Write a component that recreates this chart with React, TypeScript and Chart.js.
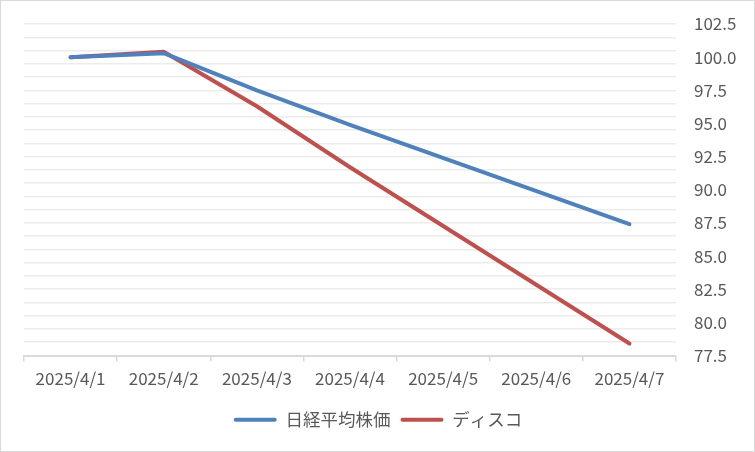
import React, { useEffect, useRef } from "react";
import { Chart, registerables } from "chart.js";

Chart.register(...registerables);

const categories = ["2025/4/1", "2025/4/2", "2025/4/3", "2025/4/4", "2025/4/5", "2025/4/6", "2025/4/7"];
const nikkei = [100.0, 100.3, 97.5, 94.9, null, null, 87.4];
const disco = [100.0, 100.4, 96.3, 91.7, null, null, 78.4];
const seriesNames = ["日経平均株価", "ディスコ"];
const seriesColors = ["#4F81BD", "#C0504D"];
const yMin = 77.5;
const yMax = 102.5;
const yLabelStep = 2.5;
const yGridStep = 1;

const FONT = "'Noto Sans CJK JP', 'Noto Sans', sans-serif";
const TEXT = "#595959";

function isMultiple(v: number, base: number, step: number) {
  const k = (v - base) / step;
  return Math.abs(k - Math.round(k)) < 1e-6;
}

const legendShift = {
  id: "legendShift",
  afterLayout(chart: any) {
    const l = chart.legend;
    if (l) {
      l.left -= 11;
      l.right -= 11;
    }
  },
};

export default function App() {
  const ref = useRef<HTMLCanvasElement | null>(null);

  useEffect(() => {
    if (!ref.current) return;
    const chart = new Chart(ref.current, {
      type: "line",
      plugins: [legendShift],
      data: {
        labels: categories,
        datasets: [
          {
            label: seriesNames[0],
            data: nikkei,
            borderColor: seriesColors[0],
            backgroundColor: seriesColors[0],
            borderWidth: 4,
            pointRadius: 0,
            tension: 0,
            spanGaps: true,
            borderCapStyle: "round",
            borderJoinStyle: "round",
          },
          {
            label: seriesNames[1],
            data: disco,
            borderColor: seriesColors[1],
            backgroundColor: seriesColors[1],
            borderWidth: 4,
            pointRadius: 0,
            tension: 0,
            spanGaps: true,
            borderCapStyle: "round",
            borderJoinStyle: "round",
          },
        ],
      },
      options: {
        animation: false,
        responsive: true,
        maintainAspectRatio: false,
        layout: { padding: { left: 23, top: 23, right: 0, bottom: 12.5 } },
        plugins: {
          tooltip: { enabled: false },
          legend: {
            position: "bottom",
            labels: {
              boxWidth: 43,
              boxHeight: 4,
              padding: 10,
              color: TEXT,
              font: { family: FONT, size: 17.5 },
              generateLabels: (c: any) =>
                c.data.datasets.map((ds: any, i: number) => ({
                  text: ds.label,
                  fillStyle: seriesColors[i],
                  strokeStyle: seriesColors[i],
                  lineWidth: 0,
                  borderRadius: 2,
                  hidden: false,
                  datasetIndex: i,
                  fontColor: TEXT,
                })),
            },
          },
        },
        scales: {
          x: {
            type: "category",
            offset: true,
            afterFit: (s: any) => {
              s.height = 45.5;
            },
            grid: {
              offset: true,
              drawOnChartArea: false,
              drawTicks: true,
              tickLength: 6,
              color: "#d9d9d9",
              lineWidth: 1.5,
            },
            border: { display: true, color: "#d9d9d9", width: 2 },
            ticks: {
              padding: 7,
              color: TEXT,
              font: { family: FONT, size: 17 },
              maxRotation: 0,
              autoSkip: false,
            },
          },
          y: {
            type: "linear",
            position: "right",
            min: yMin,
            max: yMax,
            afterFit: (s: any) => {
              s.width = 78;
              s.paddingTop = 0;
              s.paddingBottom = 0;
            },
            afterBuildTicks: (s: any) => {
              const vals: number[] = [];
              for (let v = yMin; v <= yMax + 1e-9; v += yGridStep) vals.push(Math.round(v * 10) / 10);
              for (let v = yMin; v <= yMax + 1e-9; v += yLabelStep) vals.push(Math.round(v * 10) / 10);
              const uniq = Array.from(new Set(vals)).sort((a, b) => a - b);
              s.ticks = uniq.map((value) => ({ value }));
            },
            border: { display: false },
            grid: {
              drawTicks: false,
              lineWidth: 1.5,
              color: (ctx: any) =>
                ctx.tick && isMultiple(ctx.tick.value, yMin, yGridStep) ? "#ececec" : "rgba(0,0,0,0)",
            },
            ticks: {
              padding: 18,
              autoSkip: false,
              color: TEXT,
              font: { family: FONT, size: 17 },
              callback: (value: any) => {
                const v = Number(value);
                return isMultiple(v, yMin, yLabelStep) ? v.toFixed(1) : "";
              },
            },
          },
        },
      },
    });
    return () => chart.destroy();
  }, []);

  return (
    <div
      style={{
        position: "absolute",
        left: 0,
        top: 0,
        width: 755,
        height: 452,
        boxSizing: "border-box",
        border: "1px solid #d9d9d9",
        background: "#ffffff",
      }}
    >
      <div style={{ position: "relative", width: 753, height: 450 }}>
        <canvas ref={ref} />
      </div>
    </div>
  );
}
